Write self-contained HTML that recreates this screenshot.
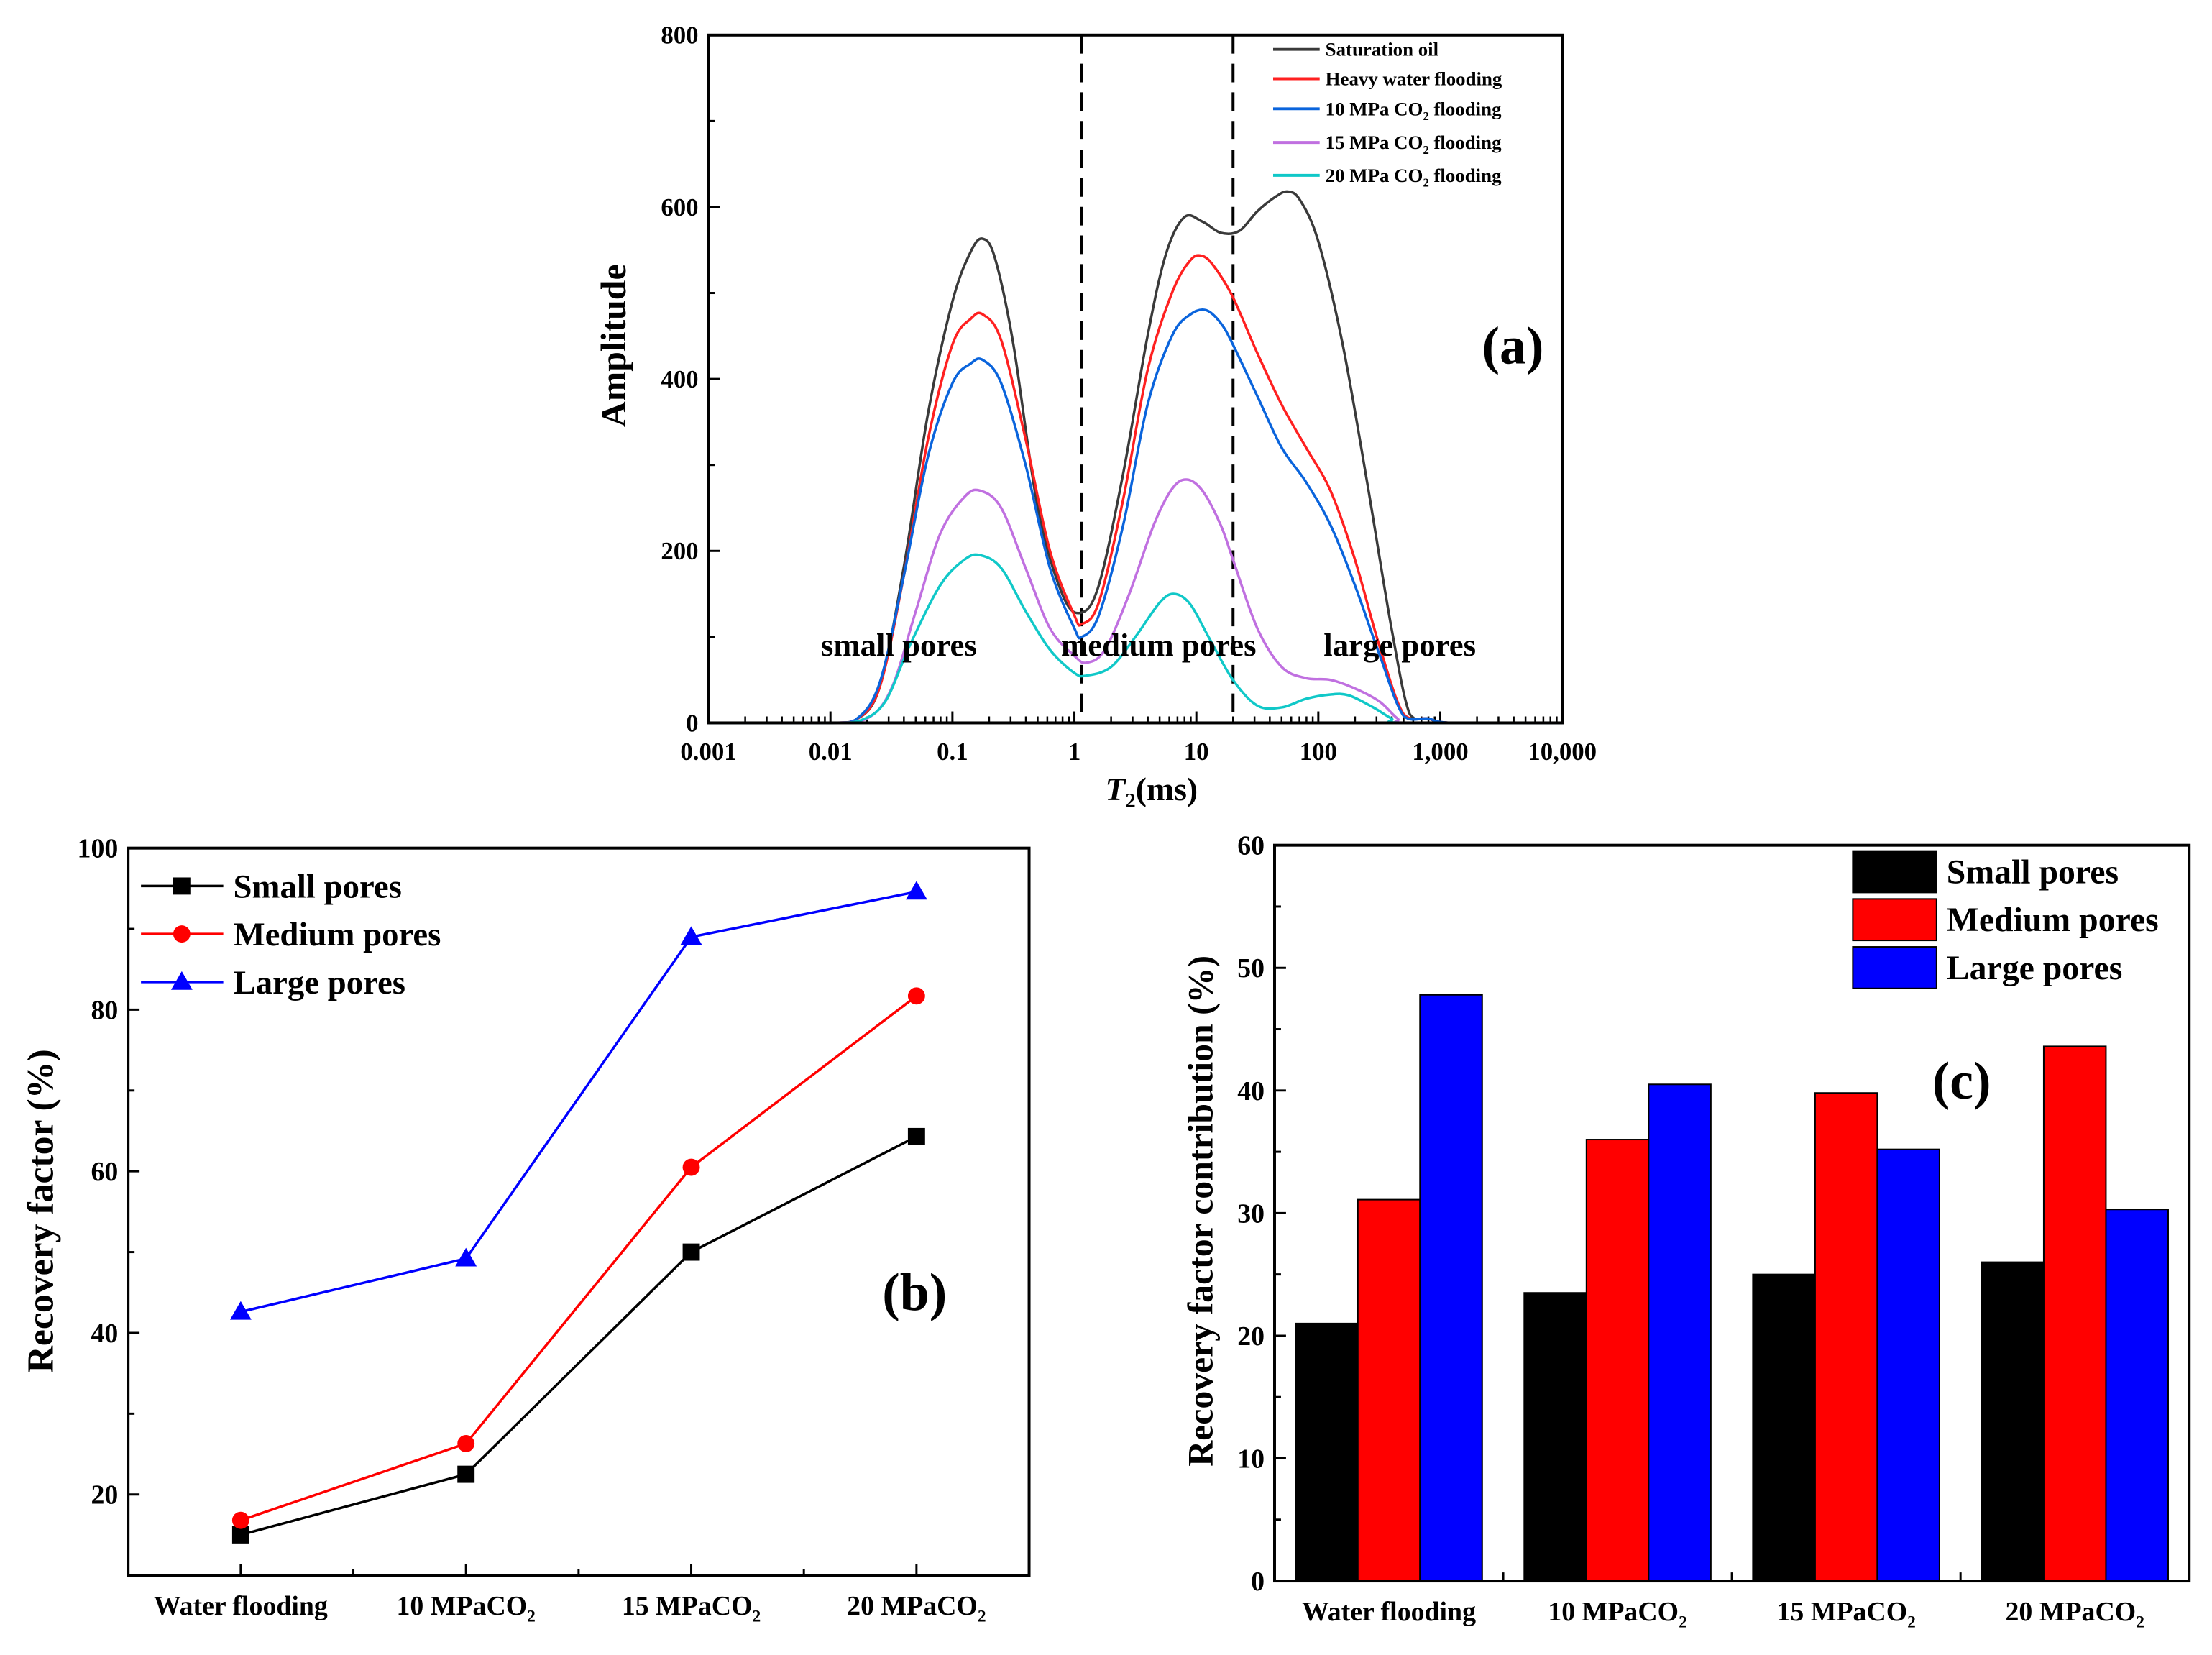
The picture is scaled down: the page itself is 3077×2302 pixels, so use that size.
<!DOCTYPE html>
<html><head><meta charset="utf-8"><style>
html,body{margin:0;padding:0;background:#fff;}
svg{display:block;font-family:"Liberation Serif",serif;font-weight:bold;}
</style></head><body>
<svg width="3077" height="2302" viewBox="0 0 3077 2302" xmlns="http://www.w3.org/2000/svg"><g id="fig" transform="scale(0.9955)"></g></svg>
<script>
// ---- Chart (a) data ----
const aSeriesNames = ["Saturation oil","Heavy water flooding","10 MPa CO2 flooding","15 MPa CO2 flooding","20 MPa CO2 flooding"];
const aColors = ["#3a3a3a","#ff2020","#0a64dc","#c070e0","#10c8c8"];
const aLogT2_sat = [-3,-2,-1.8,-1.6,-1.4,-1.2,-1.0,-0.85,-0.75,-0.65,-0.5,-0.3,-0.1,0.05,0.2,0.4,0.6,0.75,0.9,1.05,1.2,1.35,1.5,1.65,1.75,1.85,2.0,2.2,2.4,2.6,2.75,2.9,3.1,4];
const aAmp_sat   = [0,0,3,40,180,360,490,548,563,540,440,250,150,128,160,290,450,545,588,583,570,572,595,612,618,608,560,440,280,110,10,5,0,0];
const aLogT2_heavy = [-3,-2,-1.8,-1.6,-1.4,-1.2,-1.0,-0.85,-0.75,-0.6,-0.4,-0.2,0,0.06,0.2,0.4,0.6,0.8,0.95,1.05,1.15,1.3,1.5,1.7,1.9,2.1,2.3,2.5,2.7,2.9,3.1,4];
const aAmp_heavy   = [0,0,3,40,170,330,440,470,475,445,330,200,125,115,140,260,410,500,538,543,530,495,430,370,320,270,190,90,10,5,0,0];
const aLogT2_co10 = [-3,-2,-1.8,-1.6,-1.4,-1.2,-1.0,-0.85,-0.75,-0.6,-0.4,-0.2,0,0.06,0.2,0.4,0.6,0.8,0.95,1.08,1.2,1.3,1.5,1.7,1.9,2.1,2.3,2.5,2.7,2.9,3.1,4];
const aAmp_co10   = [0,0,3,45,170,310,395,418,422,395,300,180,110,100,125,230,370,450,475,480,465,440,380,320,280,230,160,80,8,5,0,0];
const aLogT2_co15 = [-3,-2,-1.7,-1.5,-1.3,-1.1,-0.9,-0.77,-0.6,-0.4,-0.2,0,0.1,0.25,0.45,0.65,0.8,0.92,1.05,1.2,1.3,1.5,1.7,1.9,2.1,2.3,2.5,2.65,2.75,4];
const aAmp_co15   = [0,0,5,40,130,220,263,270,250,180,110,78,70,85,150,230,272,283,270,230,190,110,65,52,50,40,25,5,0,0];
const aLogT2_co20 = [-3,-2,-1.75,-1.55,-1.35,-1.1,-0.9,-0.77,-0.6,-0.4,-0.2,0,0.1,0.3,0.5,0.7,0.82,0.95,1.1,1.3,1.5,1.7,1.9,2.1,2.25,2.45,2.6,2.7,4];
const aAmp_co20   = [0,0,3,25,90,160,190,195,180,130,85,58,55,65,100,140,150,138,100,50,20,18,28,33,32,18,5,0,0];
const aXTickExp = [-3,-2,-1,0,1,2,3,4];
const aXTickLabels = ["0.001","0.01","0.1","1","10","100","1,000","10,000"];
const aYTicks = [0,200,400,600,800];
const aDividers = [1.14,20];

// ---- Chart (b) data ----
const bCategories = ["Water flooding","10 MPaCO2","15 MPaCO2","20 MPaCO2"];
const bSmall  = [15,22.5,50,64.3];
const bMedium = [16.8,26.3,60.5,81.7];
const bLarge  = [42.6,49.2,89,94.6];
const bYTicks = [20,40,60,80,100];

// ---- Chart (c) data ----
const cCategories = ["Water flooding","10 MPaCO2","15 MPaCO2","20 MPaCO2"];
const cSmall  = [21,23.5,25,26];
const cMedium = [31.1,36,39.8,43.6];
const cLarge  = [47.8,40.5,35.2,30.3];
const cYTicks = [0,10,20,30,40,50,60];

const NS="http://www.w3.org/2000/svg";
const svg=document.getElementById('fig');
function mk(tag,attrs,parent){const e=document.createElementNS(NS,tag);for(const k in attrs)e.setAttribute(k,attrs[k]);(parent||svg).appendChild(e);return e;}
function txt(s,attrs,parent){const e=mk('text',attrs,parent);e.textContent=s;return e;}
function labelCO2(parent,x,y,size,name){
  const t=mk('text',{x:x,y:y,'font-size':size,'text-anchor':'middle'},parent);
  
  
  return t;
}
function addCO2Label(t,s,size){
  const idx=s.indexOf('CO2');
  if(idx>=0){
    const a=document.createElementNS(NS,'tspan');a.textContent=s.slice(0,idx+2);t.appendChild(a);
    const b=document.createElementNS(NS,'tspan');b.textContent='2';b.setAttribute('font-size',size*0.62);b.setAttribute('dy',size*0.25);t.appendChild(b);
    const rest=s.slice(idx+3);
    const c=document.createElementNS(NS,'tspan');c.textContent=rest.length?rest:'\u200b';c.setAttribute('dy',-size*0.25);t.appendChild(c);
  } else t.textContent=s;
}

// ================= Chart (a) =================
(function(){
  const L=990,R=2183,T=49,B=1010;
  const g=mk('g',{});
  
  
  const xs=v=>L+(v+3)/7*(R-L);
  const ys=v=>B-v/800*(B-T);
  aXTickExp.forEach((e,i)=>{
    const x=xs(e);
    mk('line',{x1:x,y1:B,x2:x,y2:B-16,stroke:'#000','stroke-width':3},g);
    const t=txt(aXTickLabels[i],{x:x,y:B+52,'font-size':35,'text-anchor':'middle'},g);
    
    
    if(e<4){for(let m=2;m<10;m++){const xm=xs(e+Math.log10(m));mk('line',{x1:xm,y1:B,x2:xm,y2:B-9,stroke:'#000','stroke-width':2.5},g);}}
  });
  for(let v=0;v<=800;v+=100){
    const y=ys(v);
    mk('line',{x1:L,y1:y,x2:L+(v%200===0?16:9),y2:y,stroke:'#000','stroke-width':3},g);
  }
  aYTicks.forEach(v=>{
    const t=txt(String(v),{x:L-14,y:ys(v)+12,'font-size':35,'text-anchor':'end'},g);
    
    
  });
  aDividers.forEach(d=>{
    const x=xs(Math.log10(d));
    const l=mk('line',{x1:x,y1:T,x2:x,y2:B,stroke:'#000','stroke-width':4,'stroke-dasharray':'26,14'},g);
    
    
  });
  const sets=[[aLogT2_sat,aAmp_sat],[aLogT2_heavy,aAmp_heavy],[aLogT2_co10,aAmp_co10],[aLogT2_co15,aAmp_co15],[aLogT2_co20,aAmp_co20]];
  [0,1,2,3,4].forEach(i=>{
    const [xa,ya]=sets[i];
    const pts=xa.map((x,k)=>[xs(x),ys(ya[k])]);
    let d='M'+pts[0][0]+','+pts[0][1];
    for(let k=0;k<pts.length-1;k++){
      const p0=pts[Math.max(k-1,0)],p1=pts[k],p2=pts[k+1],p3=pts[Math.min(k+2,pts.length-1)];
      const c1=[p1[0]+(p2[0]-p0[0])/6,p1[1]+(p2[1]-p0[1])/6];
      const c2=[p2[0]-(p3[0]-p1[0])/6,p2[1]-(p3[1]-p1[1])/6];
      d+=` C${c1[0]},${Math.min(c1[1],B)} ${c2[0]},${Math.min(c2[1],B)} ${p2[0]},${p2[1]}`;
    }
    const p=mk('path',{d:d,fill:'none',stroke:aColors[i],'stroke-width':3.5},g);
    
    
  });
  mk('rect',{x:L,y:T,width:R-L,height:B-T,fill:'none',stroke:'#000','stroke-width':4},g);
  const ly=[69,110,152,199,245];
  aSeriesNames.forEach((n,i)=>{
    const lg=mk('g',{},g);
    
    
    mk('line',{x1:1779,y1:ly[i],x2:1844,y2:ly[i],stroke:aColors[i],'stroke-width':4},lg);
    const t=mk('text',{x:1852,y:ly[i]+9,'font-size':27},lg);
    addCO2Label(t,n,27);
  });
  const pa=txt('(a)',{x:2114,y:508,'font-size':74,'text-anchor':'middle'},g);
  
  [['small pores',1256],['medium pores',1619],['large pores',1956]].forEach(([s,x])=>{
    const t=txt(s,{x:x,y:916,'font-size':45,'text-anchor':'middle'},g);
    
  });
  const yt=txt('Amplitude',{x:0,y:0,'font-size':50,'text-anchor':'middle',transform:'translate(874,483) rotate(-90)'},g);
  
  const xt=mk('text',{x:1609,y:1118,'font-size':46,'text-anchor':'middle'},g);
  
  xt.innerHTML='<tspan font-style="italic">T</tspan><tspan font-size="29" dy="10">2</tspan><tspan dy="-10">(ms)</tspan>';
})();

// ================= Chart (b) =================
(function(){
  const L=179,R=1438,T=1185,B=2201;
  const g=mk('g',{});
  
  
  const band=(R-L)/bCategories.length;
  const xs=i=>L+band*(i+0.5);
  const ys=v=>B-(v-10)/90*(B-T);
  for(let v=10;v<=100;v+=10){const y=ys(v);mk('line',{x1:L,y1:y,x2:L+(v%20===0?16:9),y2:y,stroke:'#000','stroke-width':3},g);}
  bYTicks.forEach(v=>{const t=txt(String(v),{x:L-14,y:ys(v)+13,'font-size':38,'text-anchor':'end'},g);
    });
  bCategories.forEach((c,i)=>{
    mk('line',{x1:xs(i),y1:B,x2:xs(i),y2:B-16,stroke:'#000','stroke-width':3},g);
    if(i<bCategories.length-1){const xm=L+band*(i+1);mk('line',{x1:xm,y1:B,x2:xm,y2:B-9,stroke:'#000','stroke-width':3},g);}
    const t=labelCO2(g,xs(i),2256,38,'x-tick-label');addCO2Label(t,c,38);
  });
  const series=[[bSmall,'#000','square','small-pores'],[bMedium,'#ff0000','circle','medium-pores'],[bLarge,'#0000ff','triangle','large-pores']];
  function marker(shape,x,y,col,parent){
    let m;
    if(shape==='square')m=mk('rect',{x:x-12,y:y-12,width:24,height:24,fill:col},parent);
    else if(shape==='circle')m=mk('circle',{cx:x,cy:y,r:12,fill:col},parent);
    else m=mk('polygon',{points:`${x},${y-15} ${x-15},${y+11} ${x+15},${y+11}`,fill:col},parent);
    return m;
  }
  series.forEach(([vals,col,shape,name])=>{
    const pts=vals.map((v,i)=>xs(i)+','+ys(v)).join(' ');
    const l=mk('polyline',{points:pts,fill:'none',stroke:col,'stroke-width':3.5},g);
    
    vals.forEach((v,i)=>{const m=marker(shape,xs(i),ys(v),col,g);
      });
  });
  const ly=[1238,1305,1372];const names=['Small pores','Medium pores','Large pores'];
  series.forEach(([vals,col,shape,name],i)=>{
    const lg=mk('g',{},g);
    
    mk('line',{x1:197,y1:ly[i],x2:312,y2:ly[i],stroke:col,'stroke-width':3.5},lg);
    marker(shape,254,ly[i],col,lg);
    txt(names[i],{x:326,y:ly[i]+16,'font-size':47},lg);
  });
  mk('rect',{x:L,y:T,width:R-L,height:B-T,fill:'none',stroke:'#000','stroke-width':4},g);
  const pb=txt('(b)',{x:1278,y:1830,'font-size':74,'text-anchor':'middle'},g);
  
  const yt=txt('Recovery factor (%)',{x:0,y:0,'font-size':52,'text-anchor':'middle',transform:'translate(74,1692) rotate(-90)'},g);
  
})();

// ================= Chart (c) =================
(function(){
  const L=1781,R=3059,T=1181,B=2209;
  const g=mk('g',{});
  
  
  const band=(R-L)/cCategories.length;
  const barW=band*0.272;
  const ys=v=>B-v/60*(B-T);
  for(let v=0;v<=60;v+=5){const y=ys(v);mk('line',{x1:L,y1:y,x2:L+(v%10===0?16:9),y2:y,stroke:'#000','stroke-width':3},g);}
  cYTicks.forEach(v=>{const t=txt(String(v),{x:L-14,y:ys(v)+13,'font-size':38,'text-anchor':'end'},g);
    });
  const series=[[cSmall,'#000000','small-pores'],[cMedium,'#ff0000','medium-pores'],[cLarge,'#0000ff','large-pores']];
  cCategories.forEach((c,i)=>{
    const x0=L+band*i+(band-3*barW)/2;
    series.forEach(([vals,col,name],k)=>{
      const r=mk('rect',{x:x0+k*barW,y:ys(vals[i]),width:barW,height:B-ys(vals[i]),fill:col,stroke:'#000','stroke-width':2},g);
      
    });
    if(i>0){const xm=L+band*i;mk('line',{x1:xm,y1:B,x2:xm,y2:B-12,stroke:'#000','stroke-width':3},g);}
    const t=labelCO2(g,L+band*(i+0.5),2264,38,'x-tick-label');addCO2Label(t,c,38);
  });
  mk('rect',{x:L,y:T,width:R-L,height:B-T,fill:'none',stroke:'#000','stroke-width':4},g);
  const ly=[1189,1256,1323];const names=['Small pores','Medium pores','Large pores'];
  series.forEach(([vals,col,name],i)=>{
    const lg=mk('g',{},g);
    
    mk('rect',{x:2589,y:ly[i],width:117,height:58,fill:col,stroke:'#000','stroke-width':2},lg);
    txt(names[i],{x:2720,y:ly[i]+45,'font-size':48},lg);
  });
  const pc=txt('(c)',{x:2741,y:1535,'font-size':74,'text-anchor':'middle'},g);
  
  const yt=txt('Recovery factor contribution (%)',{x:0,y:0,'font-size':50,'text-anchor':'middle',transform:'translate(1694,1692) rotate(-90)'},g);
  
})();
</script>
</body></html>
